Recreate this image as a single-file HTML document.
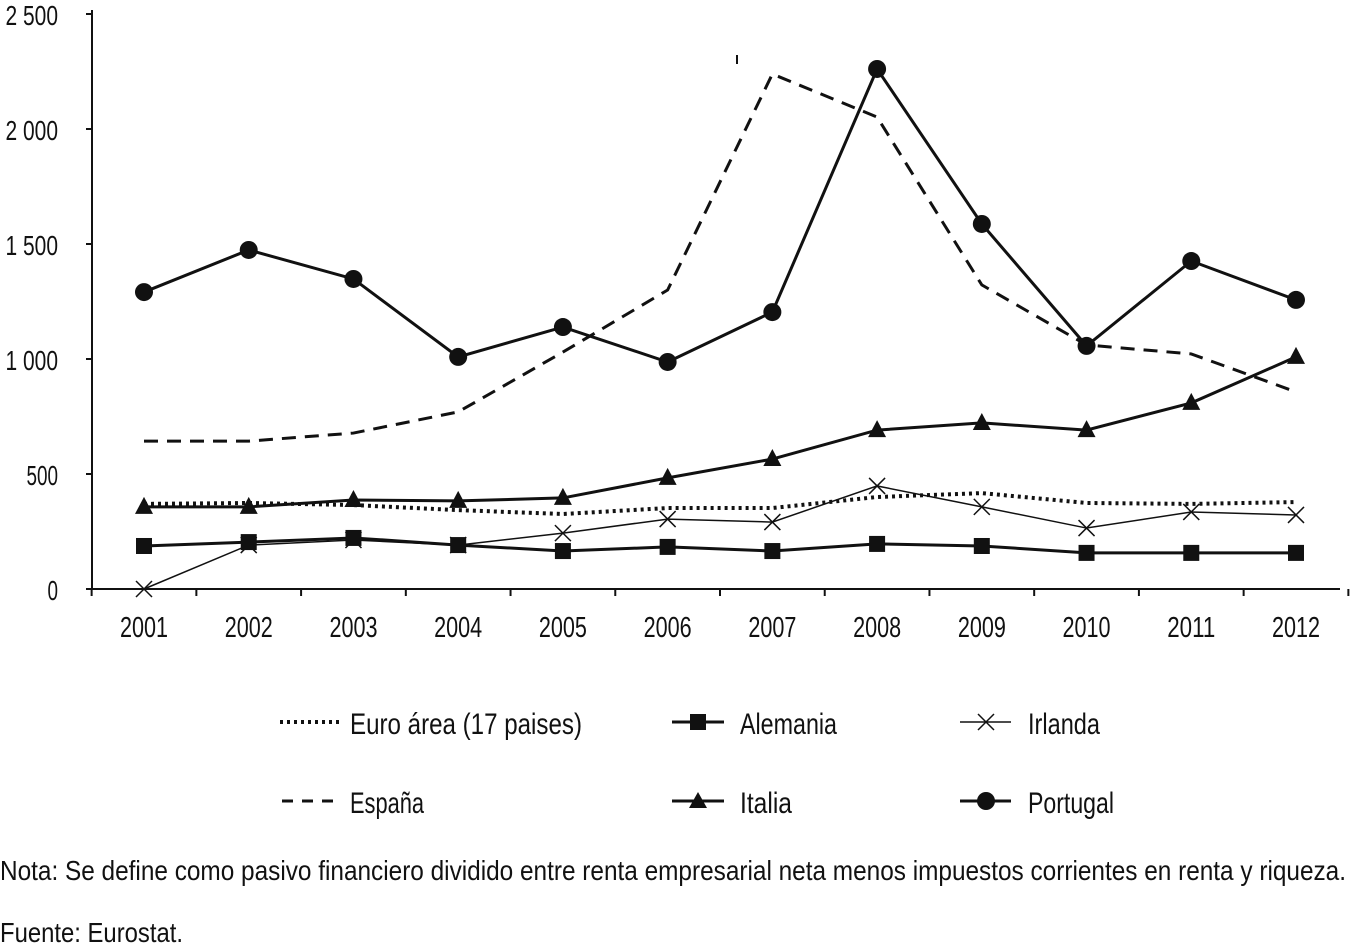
<!DOCTYPE html>
<html><head><meta charset="utf-8"><style>
body{margin:0;background:#fff;}
svg text{font-family:"Liberation Sans",sans-serif;fill:#111;}
</style></head><body>
<svg width="1350" height="946" viewBox="0 0 1350 946">
<g id="axes"></g><g id="series"></g>
<g>
<line x1="280" y1="722" x2="340" y2="722" stroke="#111" stroke-width="4" stroke-dasharray="3,4"/>
<text x="350" y="734" font-size="30" textLength="232" lengthAdjust="spacingAndGlyphs">Euro área (17 paises)</text>
<line x1="672" y1="722" x2="724" y2="722" stroke="#111" stroke-width="3"/>
<rect x="690" y="714" width="16" height="16" fill="#111"/>
<text x="740" y="734" font-size="30" textLength="97" lengthAdjust="spacingAndGlyphs">Alemania</text>
<line x1="960" y1="722" x2="1011" y2="722" stroke="#111" stroke-width="1.5"/>
<path d="M978,714 L994,730 M994,714 L978,730" stroke="#111" stroke-width="1.5"/>
<text x="1028" y="734" font-size="30" textLength="72" lengthAdjust="spacingAndGlyphs">Irlanda</text>
<line x1="282" y1="801" x2="340" y2="801" stroke="#111" stroke-width="3" stroke-dasharray="11,9"/>
<text x="350" y="813" font-size="30" textLength="74" lengthAdjust="spacingAndGlyphs">España</text>
<line x1="672" y1="801" x2="724" y2="801" stroke="#111" stroke-width="3"/>
<path d="M698,792 L707,808 L689,808 Z" fill="#111"/>
<text x="740" y="813" font-size="30" textLength="52" lengthAdjust="spacingAndGlyphs">Italia</text>
<line x1="960" y1="801" x2="1011" y2="801" stroke="#111" stroke-width="3"/>
<circle cx="986" cy="801" r="9" fill="#111"/>
<text x="1028" y="813" font-size="30" textLength="86" lengthAdjust="spacingAndGlyphs">Portugal</text>
</g>
<text x="0" y="880" font-size="28" textLength="1346" lengthAdjust="spacingAndGlyphs">Nota: Se define como pasivo financiero dividido entre renta empresarial neta menos impuestos corrientes en renta y riqueza.</text>
<text x="0" y="942" font-size="28" textLength="183" lengthAdjust="spacingAndGlyphs">Fuente: Eurostat.</text>
<line x1="737" y1="55" x2="737" y2="64" stroke="#111" stroke-width="2"/>
</svg>
<script>
const years=["2001","2002","2003","2004","2005","2006","2007","2008","2009","2010","2011","2012"];
const yTicks=[0,500,1000,1500,2000,2500];
const yTickLabels=["0","500","1 000","1 500","2 000","2 500"];
const euro=[370,374,365,343,326,352,352,400,417,374,370,378];
const alemania=[187,204,222,191,165,183,165,196,187,157,157,157];
const irlanda=[0,191,213,191,243,304,291,448,357,265,335,322];
const espana=[643,643,678,770,1030,1300,2239,2052,1322,1061,1022,857];
const italia=[357,357,387,383,396,483,565,691,722,691,809,1009];
const portugal=[1291,1474,1348,1009,1139,987,1204,2261,1587,1057,1426,1257];
const NS="http://www.w3.org/2000/svg";
const x=i=>144+i*(1296-144)/(years.length-1);
const y=v=>589-v*0.23;
function mk(tag,attrs,parent){const e=document.createElementNS(NS,tag);for(const k in attrs)e.setAttribute(k,attrs[k]);parent.appendChild(e);return e;}
const ax=document.getElementById('axes');
let e=mk('line',{x1:92,y1:y(0),x2:1340,y2:y(0),stroke:'#111','stroke-width':2},ax);


e=mk('line',{x1:92,y1:10,x2:92,y2:y(0),stroke:'#111','stroke-width':2},ax);


yTicks.forEach((v,i)=>{
 mk('line',{x1:86,y1:y(v),x2:92,y2:y(v),stroke:'#111','stroke-width':2},ax);
 const lbl=yTickLabels[i];
 const t=mk('text',{x:58,y:y(v)+11,'font-size':28,'text-anchor':'end',textLength:lbl.length*10.5,lengthAdjust:'spacingAndGlyphs'},ax);t.textContent=lbl;
 
 
});
const step=(1296-144)/(years.length-1);
years.forEach((yr,i)=>{
 mk('line',{x1:x(i)-step/2,y1:y(0),x2:x(i)-step/2,y2:y(0)+7,stroke:'#111','stroke-width':2},ax);
 const t=mk('text',{x:x(i),y:637,'font-size':29,'text-anchor':'middle',textLength:48,lengthAdjust:'spacingAndGlyphs'},ax);t.textContent=yr;
 
 
});
mk('line',{x1:x(11)+step/2,y1:y(0),x2:x(11)+step/2,y2:y(0)+7,stroke:'#111','stroke-width':2},ax);
const sg=document.getElementById('series');
function series(data,name,sw,dash,marker){
 const g=mk('g',{},sg);
 
 
 const p=mk('polyline',{points:data.map((v,i)=>x(i)+','+y(v)).join(' '),fill:'none',stroke:'#111','stroke-width':sw},g);
 if(dash)p.setAttribute('stroke-dasharray',dash);
 data.forEach((v,i)=>{
  let m=null;const cx=x(i),cy=y(v);
  if(marker==='sq')m=mk('rect',{x:cx-8,y:cy-8,width:16,height:16,fill:'#111'},g);
  if(marker==='x')m=mk('path',{d:`M${cx-8},${cy-8}L${cx+8},${cy+8}M${cx+8},${cy-8}L${cx-8},${cy+8}`,stroke:'#111','stroke-width':1.5},g);
  if(marker==='tri')m=mk('path',{d:`M${cx},${cy-10}L${cx+9},${cy+7}L${cx-9},${cy+7}Z`,fill:'#111'},g);
  if(marker==='c')m=mk('circle',{cx:cx,cy:cy,r:9,fill:'#111'},g);
  if(m){
  }
 });
}
series(espana,'espana',3,'14,9',null);
series(euro,'euro-area',4,'3,4',null);
series(irlanda,'irlanda',1.5,null,'x');
series(alemania,'alemania',3,null,'sq');
series(italia,'italia',3,null,'tri');
series(portugal,'portugal',3,null,'c');
</script>
</body></html>
